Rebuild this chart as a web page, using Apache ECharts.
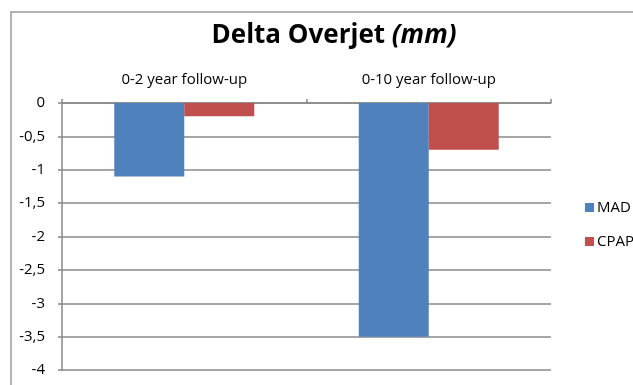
<!DOCTYPE html>
<html>
<head>
<meta charset="utf-8">
<script src="https://cdn.jsdelivr.net/npm/echarts@6/dist/echarts.min.js"></script>
<style>
  html, body { margin: 0; padding: 0; background: #fff; }
  #chart { width: 633px; height: 385px; }
</style>
</head>
<body>
<div id="chart"></div>
<script>
// Follow-up periods and change in overjet (mm) per treatment
const categories = ['0-2 year follow-up', '0-10 year follow-up'];
const madValues = [-1.1, -3.5];
const cpapValues = [-0.2, -0.7];
const seriesNames = ['MAD', 'CPAP'];

const FONT = '"Open Sans", Lato, sans-serif';
const chart = echarts.init(document.getElementById('chart'), null, { renderer: 'canvas' });

chart.setOption({
  animation: false,
  backgroundColor: '#ffffff',
  textStyle: { fontFamily: FONT },
  graphic: [{
    type: 'rect',
    shape: { x: 11, y: 12, width: 700, height: 500 },
    style: { fill: 'none', stroke: '#9a9a9a', lineWidth: 1.5 },
    silent: true,
    z: -10
  }],
  title: {
    text: '{b|Delta Overjet }{i|(mm)}',
    left: 329,
    textAlign: 'center',
    top: 18,
    textStyle: {
      rich: {
        b: { fontFamily: FONT, fontWeight: 'bold', fontSize: 26, color: '#000' },
        i: { fontFamily: FONT, fontWeight: 'bold', fontStyle: 'italic', fontSize: 26, color: '#000' }
      }
    }
  },
  legend: {
    orient: 'vertical',
    left: 580,
    top: 195,
    itemWidth: 9,
    itemHeight: 9,
    itemGap: 19,
    icon: 'rect',
    data: seriesNames,
    textStyle: { fontFamily: FONT, fontSize: 15, color: '#000', padding: [0, 0, 0, -2] }
  },
  grid: { left: 62, right: 82, top: 103, bottom: 15, containLabel: false },
  xAxis: {
    type: 'category',
    position: 'top',
    data: categories,
    axisLine: { show: true, lineStyle: { color: '#888', width: 1.5 } },
    axisTick: { show: true, alignWithLabel: false, length: 4, lineStyle: { color: '#888', width: 1.5 } },
    axisLabel: { fontFamily: FONT, fontSize: 15, color: '#000', margin: 16 },
    splitLine: { show: false }
  },
  yAxis: {
    type: 'value',
    min: -4,
    max: 0,
    interval: 0.5,
    axisLine: { show: true, lineStyle: { color: '#888', width: 1.5 } },
    axisTick: { show: true, length: 4, lineStyle: { color: '#888', width: 1.5 } },
    axisLabel: {
      fontFamily: FONT, fontSize: 15, color: '#000', margin: 17,
      formatter: v => String(v).replace('.', ',')
    },
    splitLine: { show: true, lineStyle: { color: '#888', width: 1.5 } }
  },
  series: [
    {
      name: seriesNames[0],
      type: 'bar',
      data: madValues,
      barWidth: 70,
      barGap: '0%',
      itemStyle: { color: '#4F81BD' }
    },
    {
      name: seriesNames[1],
      type: 'bar',
      data: cpapValues,
      barWidth: 70,
      barGap: '0%',
      itemStyle: { color: '#C0504D' }
    }
  ]
});
</script>
</body>
</html>
